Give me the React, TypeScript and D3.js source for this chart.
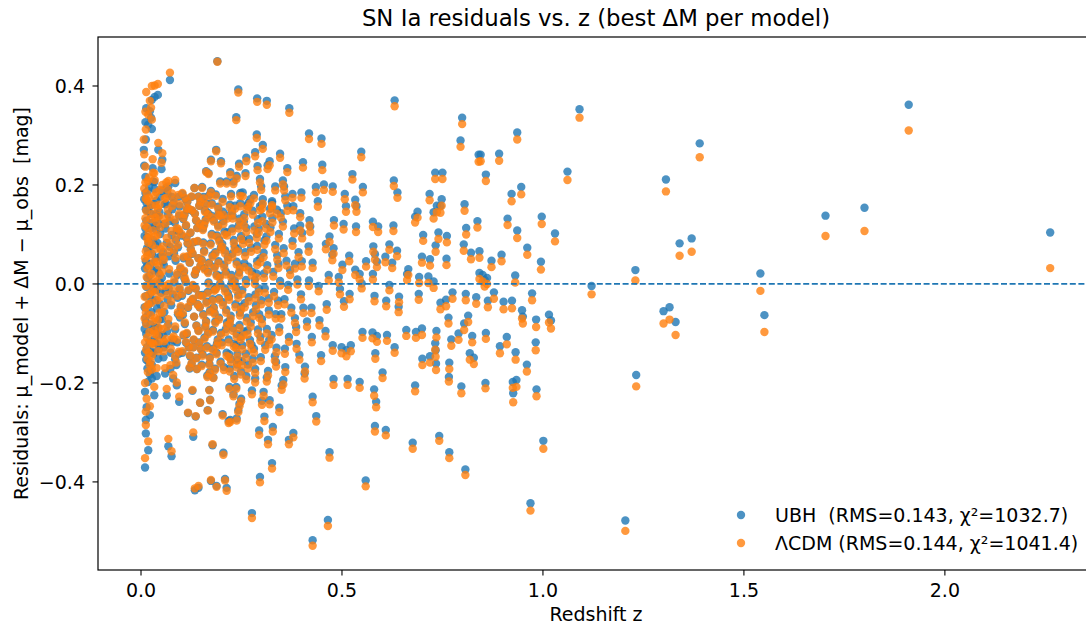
import React from "react";
import * as d3 from "d3";

// ---- Distant supernovae (z ≳ 0.4): redshift, UBH residual, ΛCDM residual ----
const distantZ = [
  1.205, 1.230, 1.232, 1.300, 1.306, 1.315, 1.330, 1.340, 1.370, 1.390,
  1.541, 1.551, 1.703, 1.800, 1.910, 2.262, 1.121, 1.091, 0.936, 0.891,
  0.845, 0.858, 1.061, 0.922, 0.946, 0.912, 0.936, 0.997, 1.030, 0.961,
  0.897, 0.872, 0.995, 0.931, 0.878, 0.973, 0.902, 0.923, 0.863, 0.948,
  0.950, 0.983, 1.015, 1.020, 0.858, 0.910, 0.893, 0.982, 0.932, 0.960,
  0.857, 0.925, 0.934, 0.926, 0.984, 1.001, 0.969, 0.842, 0.850, 0.855,
  0.861,
  0.427, 0.465, 0.559, 0.469, 0.807, 0.767, 0.742, 0.676, 0.582, 0.609,
  0.436, 0.427, 0.408, 0.479, 0.514, 0.544, 0.580, 0.585, 0.601, 0.682,
  0.766, 0.797, 0.448, 0.477, 0.499, 0.522, 0.511, 0.459, 0.425, 0.551,
  0.576, 0.587, 0.612, 0.631, 0.583, 0.660, 0.684, 0.699, 0.735, 0.732,
  0.733, 0.734, 0.700, 0.719, 0.767, 0.772, 0.790, 0.765, 0.804, 0.814,
  0.824, 0.818, 0.828, 0.642, 0.641, 0.610, 0.745, 0.759, 0.775, 0.808,
  0.834, 0.691, 0.581, 0.549, 0.618, 0.519, 0.495, 0.505, 0.424, 0.404,
  0.462, 0.444, 0.413, 0.418, 0.442, 0.467, 0.492, 0.544, 0.577, 0.662,
  0.692, 0.715, 0.728,
  0.631, 0.799, 0.795, 0.418, 0.449, 0.548, 0.840, 0.403, 0.451, 0.526,
  0.732, 0.750, 0.629, 0.638, 0.435, 0.455, 0.477, 0.552, 0.399, 0.507,
  0.533, 0.440, 0.510, 0.536, 0.718, 0.748, 0.736, 0.805, 0.688, 0.682,
  0.728, 0.745, 0.837, 0.809, 0.419, 0.480, 0.504, 0.535, 0.577, 0.590,
  0.628, 0.702, 0.740, 0.761, 0.803, 0.821, 0.842, 0.733, 0.699, 0.719,
  0.760, 0.665, 0.637, 0.608, 0.625, 0.578, 0.582, 0.587, 0.618, 0.518,
  0.560, 0.533, 0.501, 0.427, 0.400, 0.417, 0.460, 0.479, 0.476, 0.401,
  0.421, 0.469,
];
const distantUBH = [
  -0.478, 0.028, -0.184, -0.055, 0.211, -0.047, -0.077, 0.082, 0.092, 0.284,
  0.021, -0.063, 0.138, 0.154, 0.362, 0.104, -0.004, 0.353, 0.306, 0.263,
  0.261, 0.221, 0.227, 0.182, 0.196, 0.132, 0.108, 0.136, 0.102, 0.073,
  0.059, 0.047, 0.045, 0.017, -0.017, -0.019, -0.036, -0.034, -0.034, -0.053,
  -0.066, -0.072, -0.062, -0.074, -0.099, -0.107, -0.126, -0.118, -0.138, -0.163,
  -0.200, -0.198, -0.194, -0.221, -0.213, -0.317, -0.443, 0.022, 0.018, 0.008,
  0.012,
  -0.518, -0.477, -0.397, -0.340, -0.375, -0.340, -0.307, -0.321, -0.287, -0.295,
  -0.267, -0.228, -0.167, -0.192, -0.192, -0.198, -0.213, -0.238, -0.179, -0.205,
  -0.188, -0.207, -0.144, -0.124, -0.128, -0.124, -0.134, -0.095, -0.107, -0.097,
  -0.098, -0.105, -0.103, -0.128, -0.140, -0.093, -0.097, -0.090, -0.095, -0.120,
  -0.134, -0.161, -0.151, -0.146, -0.159, -0.112, -0.100, -0.068, -0.080, -0.064,
  -0.105, -0.140, -0.149, -0.026, -0.046, -0.034, -0.038, -0.032, -0.017, -0.020,
  -0.027, -0.020, -0.024, 0.001, -0.002, -0.020, -0.010, -0.035, -0.048, -0.048,
  -0.041, -0.073, -0.076, 0.007, -0.004, 0.018, 0.014, 0.020, 0.020, 0.020,
  0.014, 0.015, 0.005,
  0.371, 0.336, 0.290, 0.304, 0.294, 0.267, 0.261, 0.246, 0.241, 0.222,
  0.225, 0.225, 0.209, 0.185, 0.196, 0.201, 0.197, 0.196, 0.185, 0.182,
  0.170, 0.167, 0.157, 0.157, 0.182, 0.171, 0.158, 0.161, 0.146, 0.136,
  0.145, 0.157, 0.127, 0.113, 0.129, 0.129, 0.121, 0.116, 0.126, 0.116,
  0.118, 0.099, 0.104, 0.097, 0.080, 0.063, 0.066, 0.078, 0.055, 0.050,
  0.051, 0.030, 0.067, 0.055, 0.043, 0.076, 0.060, 0.045, 0.080, 0.057,
  0.046, 0.029, 0.039, 0.043, 0.046, 0.076, 0.081, 0.072, 0.059, 0.103,
  0.116, 0.096,
];
const distantLCDM = [
  -0.499, 0.007, -0.207, -0.080, 0.187, -0.072, -0.103, 0.057, 0.065, 0.256,
  -0.014, -0.097, 0.097, 0.107, 0.310, 0.032, -0.021, 0.336, 0.292, 0.249,
  0.248, 0.208, 0.210, 0.167, 0.181, 0.119, 0.093, 0.121, 0.086, 0.059,
  0.046, 0.034, 0.029, 0.003, -0.030, -0.033, -0.051, -0.049, -0.047, -0.070,
  -0.080, -0.087, -0.078, -0.090, -0.111, -0.122, -0.140, -0.134, -0.153, -0.177,
  -0.211, -0.210, -0.208, -0.239, -0.227, -0.333, -0.458, 0.010, 0.005, -0.005,
  0.000,
  -0.529, -0.489, -0.409, -0.351, -0.386, -0.352, -0.317, -0.333, -0.298, -0.306,
  -0.278, -0.239, -0.177, -0.204, -0.204, -0.210, -0.226, -0.249, -0.190, -0.217,
  -0.197, -0.221, -0.156, -0.135, -0.140, -0.136, -0.146, -0.106, -0.118, -0.109,
  -0.110, -0.117, -0.115, -0.139, -0.151, -0.105, -0.109, -0.103, -0.108, -0.133,
  -0.147, -0.174, -0.164, -0.159, -0.172, -0.125, -0.113, -0.080, -0.093, -0.077,
  -0.118, -0.153, -0.162, -0.037, -0.057, -0.045, -0.051, -0.045, -0.030, -0.033,
  -0.040, -0.032, -0.035, -0.009, -0.013, -0.031, -0.021, -0.046, -0.059, -0.059,
  -0.052, -0.084, -0.087, -0.004, -0.015, 0.007, 0.003, 0.009, 0.009, 0.008,
  0.002, 0.002, -0.008,
  0.359, 0.323, 0.277, 0.293, 0.283, 0.256, 0.247, 0.235, 0.230, 0.211,
  0.212, 0.212, 0.198, 0.174, 0.185, 0.190, 0.186, 0.185, 0.174, 0.171,
  0.159, 0.156, 0.146, 0.146, 0.169, 0.158, 0.145, 0.148, 0.134, 0.124,
  0.132, 0.144, 0.114, 0.100, 0.118, 0.118, 0.110, 0.105, 0.115, 0.105,
  0.107, 0.087, 0.091, 0.084, 0.067, 0.050, 0.053, 0.065, 0.043, 0.037,
  0.038, 0.018, 0.056, 0.044, 0.032, 0.065, 0.049, 0.034, 0.069, 0.046,
  0.035, 0.018, 0.028, 0.032, 0.035, 0.065, 0.070, 0.061, 0.048, 0.092,
  0.105, 0.085,
];

// ---- Nearby supernovae with large residuals (z < 0.4, |r| ≳ 0.15) ----
const tailZ = [
  0.190, 0.072, 0.013, 0.027, 0.034, 0.042, 0.242, 0.289, 0.313, 0.369,
  0.237, 0.288, 0.303, 0.284, 0.187, 0.346, 0.262, 0.174, 0.199, 0.320,
  0.244, 0.290, 0.364, 0.162, 0.168, 0.222, 0.238, 0.260, 0.315, 0.296,
  0.197, 0.213, 0.230, 0.353, 0.334, 0.356, 0.299, 0.377, 0.281, 0.224,
  0.170, 0.143, 0.062, 0.068, 0.085, 0.051, 0.043, 0.053, 0.029, 0.008,
  0.007, 0.012, 0.027, 0.011, 0.022, 0.025, 0.018, 0.114, 0.221, 0.193,
  0.247, 0.267, 0.301, 0.326, 0.338, 0.359, 0.379, 0.396,
  0.276, 0.010, 0.076, 0.068, 0.018, 0.012, 0.134, 0.143, 0.188, 0.174,
  0.213, 0.209, 0.296, 0.326, 0.205, 0.178, 0.130, 0.316, 0.294, 0.328,
  0.307, 0.379, 0.368, 0.344, 0.222, 0.203, 0.238, 0.242, 0.166, 0.147,
  0.117, 0.136, 0.095, 0.128, 0.170, 0.172, 0.180, 0.220, 0.237, 0.230,
  0.249, 0.245, 0.218, 0.276, 0.301, 0.320, 0.305, 0.284, 0.313, 0.262,
  0.350, 0.354, 0.407, 0.010, 0.014, 0.022, 0.012, 0.033, 0.027, 0.064,
  0.080, 0.089,
];
const tailUBH = [
  0.450, 0.412, 0.355, 0.372, 0.378, 0.382, 0.393, 0.375, 0.370, 0.355,
  0.337, 0.302, 0.281, 0.266, 0.271, 0.263, 0.255, 0.251, 0.248, 0.248,
  0.243, 0.238, 0.234, 0.228, 0.224, 0.226, 0.218, 0.224, 0.240, 0.212,
  0.207, 0.207, 0.207, 0.209, 0.197, 0.197, 0.197, 0.182, 0.180, 0.182,
  0.180, 0.177, 0.162, 0.197, 0.204, 0.232, 0.271, 0.251, 0.234, 0.239,
  0.271, 0.292, 0.313, 0.327, 0.349, 0.336, 0.322, 0.150, 0.160, 0.143,
  0.163, 0.163, 0.160, 0.167, 0.150, 0.177, 0.157, 0.143,
  -0.463, -0.371, -0.348, -0.328, -0.336, -0.302, -0.417, -0.412, -0.408, -0.398,
  -0.412, -0.394, -0.390, -0.362, -0.341, -0.326, -0.309, -0.315, -0.296, -0.289,
  -0.268, -0.301, -0.315, -0.250, -0.275, -0.263, -0.272, -0.255, -0.255, -0.240,
  -0.261, -0.268, -0.238, -0.216, -0.214, -0.234, -0.189, -0.208, -0.208, -0.223,
  -0.232, -0.242, -0.277, -0.215, -0.236, -0.235, -0.218, -0.191, -0.189, -0.186,
  -0.205, -0.194, -0.181, -0.218, -0.249, -0.265, -0.275, -0.225, -0.191, -0.225,
  -0.191, -0.205,
];
const tailLCDM = [
  0.449, 0.427, 0.388, 0.400, 0.401, 0.404, 0.387, 0.368, 0.362, 0.346,
  0.331, 0.295, 0.273, 0.258, 0.268, 0.255, 0.248, 0.248, 0.244, 0.240,
  0.237, 0.230, 0.226, 0.226, 0.222, 0.221, 0.213, 0.218, 0.232, 0.205,
  0.203, 0.203, 0.202, 0.201, 0.189, 0.189, 0.190, 0.174, 0.173, 0.177,
  0.177, 0.176, 0.174, 0.208, 0.210, 0.245, 0.285, 0.264, 0.252, 0.262,
  0.292, 0.312, 0.332, 0.348, 0.370, 0.356, 0.342, 0.153, 0.155, 0.139,
  0.157, 0.156, 0.152, 0.159, 0.142, 0.169, 0.149, 0.135,
  -0.473, -0.352, -0.338, -0.313, -0.318, -0.285, -0.413, -0.408, -0.410, -0.396,
  -0.418, -0.397, -0.401, -0.373, -0.345, -0.324, -0.300, -0.324, -0.305, -0.298,
  -0.277, -0.310, -0.324, -0.259, -0.279, -0.266, -0.276, -0.259, -0.256, -0.240,
  -0.260, -0.267, -0.228, -0.214, -0.215, -0.235, -0.190, -0.212, -0.212, -0.227,
  -0.237, -0.247, -0.281, -0.223, -0.244, -0.243, -0.226, -0.199, -0.197, -0.193,
  -0.214, -0.203, -0.191, -0.200, -0.232, -0.247, -0.258, -0.208, -0.173, -0.212,
  -0.184, -0.199,
];

// ---- Nearby supernovae in the dense core (z < 0.4, |r| ≲ 0.2) ----
const coreZ = [
  0.011, 0.024, 0.009, 0.037, 0.016, 0.028, 0.012, 0.041, 0.019, 0.033,
  0.014, 0.045, 0.021, 0.010, 0.039, 0.026, 0.013, 0.031, 0.022, 0.017,
  0.042, 0.030, 0.012, 0.047, 0.020, 0.035, 0.015, 0.027, 0.008, 0.036,
  0.018, 0.044, 0.023, 0.011, 0.032, 0.016, 0.048, 0.025, 0.014, 0.040,
  0.029, 0.010, 0.034, 0.019, 0.046, 0.013, 0.038, 0.021, 0.043, 0.026,
  0.017, 0.030, 0.012, 0.049, 0.023, 0.035, 0.015, 0.041, 0.028, 0.009,
  0.032, 0.020, 0.045, 0.016, 0.037, 0.024, 0.011, 0.050,
  0.053, 0.078, 0.061, 0.092, 0.057, 0.083, 0.066, 0.097, 0.054, 0.074,
  0.088, 0.059, 0.071, 0.095, 0.064, 0.086, 0.052, 0.079, 0.099, 0.068,
  0.090, 0.056, 0.076, 0.093, 0.063, 0.082, 0.070, 0.096, 0.058, 0.085,
  0.073, 0.067, 0.089, 0.055, 0.081, 0.098, 0.062, 0.077, 0.091, 0.069,
  0.084, 0.060, 0.094,
  0.103, 0.127, 0.112, 0.141, 0.106, 0.134, 0.118, 0.146, 0.109, 0.131,
  0.122, 0.139, 0.115, 0.137, 0.101, 0.124, 0.148, 0.111, 0.129, 0.104,
  0.143, 0.119, 0.133, 0.108, 0.145, 0.121, 0.136, 0.114, 0.149, 0.126,
  0.102, 0.140, 0.116, 0.132, 0.107, 0.144, 0.123, 0.138, 0.110, 0.128,
  0.152, 0.176, 0.161, 0.189, 0.157, 0.183, 0.168, 0.194, 0.155, 0.179,
  0.164, 0.198, 0.171, 0.186, 0.159, 0.192, 0.173, 0.151, 0.196, 0.166,
  0.181, 0.158, 0.188, 0.170, 0.154, 0.178, 0.199, 0.163, 0.185, 0.153,
  0.175, 0.191, 0.167, 0.182, 0.160, 0.197, 0.172, 0.156, 0.184, 0.193,
  0.203, 0.228, 0.214, 0.241, 0.207, 0.233, 0.219, 0.246, 0.211, 0.237,
  0.224, 0.249, 0.205, 0.231, 0.216, 0.244, 0.209, 0.235, 0.221, 0.248,
  0.213, 0.239, 0.226, 0.202, 0.243, 0.218, 0.232, 0.206, 0.247, 0.225,
  0.212, 0.238, 0.229, 0.201, 0.242,
  0.253, 0.278, 0.262, 0.289, 0.257, 0.283, 0.268, 0.294, 0.255, 0.281,
  0.266, 0.291, 0.259, 0.286, 0.271, 0.298, 0.264, 0.276, 0.252, 0.288,
  0.273, 0.297, 0.261, 0.284, 0.269, 0.293, 0.256, 0.279,
  0.303, 0.327, 0.312, 0.339, 0.306, 0.331, 0.318, 0.344, 0.309, 0.336,
  0.322, 0.348, 0.314, 0.341, 0.325, 0.301, 0.334, 0.316, 0.346, 0.321,
  0.308, 0.337,
  0.353, 0.377, 0.362, 0.389, 0.357, 0.383, 0.368, 0.394, 0.359, 0.381,
  0.366, 0.392, 0.374, 0.387, 0.355, 0.398,
];
const coreUBH = [
  0.184, 0.142, 0.097, 0.053, 0.012, -0.034, -0.078, -0.121, -0.158, 0.206,
  0.163, 0.121, 0.074, 0.031, -0.012, -0.057, -0.101, -0.141, -0.183, 0.188,
  0.136, 0.089, 0.046, 0.003, -0.041, -0.087, -0.128, -0.163, 0.171, 0.117,
  0.064, 0.022, -0.021, -0.068, -0.112, 0.148, 0.101, 0.041, -0.006, -0.049,
  -0.094, -0.139, 0.192, 0.083, -0.072, 0.128, 0.168, -0.116, -0.151, 0.001,
  -0.198, 0.207, -0.025, 0.056, 0.112, -0.033, 0.072, 0.083, -0.137, -0.047,
  0.027, 0.155, -0.104, -0.171, 0.141, -0.082, 0.112, -0.018,
  0.188, 0.151, 0.112, 0.074, 0.038, 0.003, -0.032, -0.068, -0.103, -0.139,
  -0.164, 0.161, 0.127, 0.138, 0.083, 0.047, 0.012, -0.021, -0.048, -0.081,
  -0.118, -0.148, 0.099, 0.176, 0.195, 0.062, 0.021, -0.011, -0.057, -0.092,
  -0.172, 0.141, 0.108, 0.064, -0.113, 0.031, -0.122, 0.176, -0.028, -0.009,
  0.124, -0.181, -0.141,
  0.182, 0.148, 0.117, 0.086, 0.052, 0.019, -0.014, -0.047, -0.081, -0.113,
  -0.146, -0.172, 0.165, 0.128, 0.098, 0.069, 0.037, 0.004, -0.031, -0.063,
  -0.094, -0.128, 0.194, 0.139, 0.158, 0.043, -0.009, -0.101, -0.131, -0.161,
  -0.024, 0.113, 0.081, -0.066, 0.024, -0.022, 0.103, -0.149, 0.172, 0.061,
  0.196, 0.163, 0.131, 0.098, 0.067, 0.035, 0.003, -0.029, -0.061, -0.093,
  -0.126, -0.157, -0.178, 0.181, 0.149, 0.118, 0.082, 0.049, 0.016, -0.016,
  -0.047, -0.108, -0.139, -0.161, 0.112, 0.058, 0.074, -0.036, -0.076, -0.142,
  0.138, -0.112, 0.025, -0.011, -0.085, 0.141, -0.053, 0.176, -0.171, 0.046,
  0.172, 0.138, 0.104, 0.071, 0.039, 0.007, -0.026, -0.058, -0.091, -0.124,
  -0.152, -0.177, 0.127, 0.089, 0.054, 0.023, -0.009, -0.041, -0.074, -0.107,
  -0.139, -0.163, 0.148, 0.081, 0.118, -0.112, -0.186, -0.168, 0.184, 0.018,
  -0.052, 0.045, -0.089, -0.118, -0.022,
  0.185, 0.148, 0.113, 0.077, 0.042, 0.008, -0.027, -0.061, -0.096, -0.131,
  -0.163, 0.131, 0.064, -0.043, -0.113, -0.148, 0.158, 0.025, -0.012, 0.101,
  -0.078, 0.052, -0.141, -0.172, 0.091, -0.009, 0.126, -0.057,
  0.171, 0.133, 0.096, 0.058, 0.021, -0.016, -0.053, -0.088, -0.124, -0.158,
  0.114, 0.143, 0.038, -0.034, -0.103, -0.071, 0.079, -0.176, 0.006, 0.152,
  -0.009, -0.129,
  0.126, 0.087, 0.047, 0.009, -0.031, -0.069, -0.107, -0.143, -0.168, 0.112,
  -0.002, 0.064, -0.048, -0.121, 0.072, -0.021,
];
const coreLCDM = [
  0.205, 0.160, 0.118, 0.071, 0.031, -0.015, -0.058, -0.104, -0.139, 0.224,
  0.183, 0.137, 0.094, 0.052, 0.005, -0.038, -0.081, -0.122, -0.164, 0.208,
  0.152, 0.108, 0.066, 0.018, -0.021, -0.069, -0.108, -0.145, 0.193, 0.134,
  0.083, 0.037, -0.001, -0.047, -0.094, 0.168, 0.115, 0.060, 0.014, -0.033,
  -0.076, -0.118, 0.210, 0.102, -0.058, 0.148, 0.185, -0.097, -0.136, 0.020,
  -0.178, 0.225, -0.004, 0.070, 0.131, -0.016, 0.092, 0.099, -0.119, -0.026,
  0.045, 0.174, -0.089, -0.151, 0.158, -0.063, 0.133, -0.004,
  0.200, 0.158, 0.122, 0.079, 0.049, 0.009, -0.022, -0.064, -0.091, -0.131,
  -0.159, 0.172, 0.135, 0.142, 0.093, 0.053, 0.025, -0.013, -0.045, -0.071,
  -0.113, -0.136, 0.107, 0.180, 0.205, 0.069, 0.030, -0.007, -0.045, -0.086,
  -0.164, 0.150, 0.113, 0.076, -0.106, 0.034, -0.111, 0.183, -0.024, 0.000,
  0.130, -0.170, -0.137,
  0.184, 0.149, 0.119, 0.087, 0.055, 0.020, -0.012, -0.047, -0.078, -0.112,
  -0.144, -0.172, 0.167, 0.129, 0.101, 0.070, 0.037, 0.007, -0.030, -0.059,
  -0.095, -0.127, 0.194, 0.141, 0.158, 0.044, -0.009, -0.099, -0.132, -0.160,
  -0.020, 0.113, 0.083, -0.066, 0.027, -0.023, 0.104, -0.150, 0.174, 0.062,
  0.194, 0.160, 0.128, 0.095, 0.064, 0.032, 0.000, -0.032, -0.064, -0.096,
  -0.129, -0.161, -0.181, 0.178, 0.146, 0.115, 0.079, 0.047, 0.012, -0.019,
  -0.050, -0.111, -0.142, -0.164, 0.109, 0.055, 0.070, -0.039, -0.079, -0.145,
  0.135, -0.116, 0.022, -0.014, -0.088, 0.137, -0.056, 0.173, -0.174, 0.042,
  0.166, 0.132, 0.098, 0.065, 0.033, 0.001, -0.032, -0.064, -0.097, -0.130,
  -0.158, -0.183, 0.121, 0.083, 0.048, 0.017, -0.015, -0.047, -0.080, -0.113,
  -0.145, -0.169, 0.142, 0.075, 0.112, -0.118, -0.192, -0.174, 0.178, 0.012,
  -0.058, 0.039, -0.095, -0.124, -0.028,
  0.177, 0.140, 0.105, 0.069, 0.034, 0.000, -0.035, -0.069, -0.104, -0.139,
  -0.171, 0.123, 0.056, -0.051, -0.121, -0.156, 0.150, 0.017, -0.020, 0.093,
  -0.086, 0.044, -0.149, -0.180, 0.083, -0.017, 0.118, -0.065,
  0.162, 0.124, 0.087, 0.049, 0.012, -0.025, -0.062, -0.097, -0.133, -0.167,
  0.105, 0.134, 0.029, -0.043, -0.112, -0.080, 0.070, -0.185, -0.003, 0.143,
  -0.018, -0.138,
  0.116, 0.077, 0.037, -0.001, -0.041, -0.079, -0.117, -0.153, -0.178, 0.102,
  -0.012, 0.054, -0.058, -0.131, 0.062, -0.031,
];

// ---- Further core supernovae filling the densest part of the cloud ----
const packedZ = [
  0.015, 0.033, 0.009, 0.044, 0.021, 0.038, 0.013, 0.027, 0.046, 0.018,
  0.031, 0.040, 0.011, 0.024, 0.035, 0.048, 0.016, 0.029, 0.042, 0.020,
  0.034, 0.012, 0.047, 0.025, 0.039,
  0.058, 0.087, 0.065, 0.092, 0.054, 0.075, 0.081, 0.069, 0.096, 0.061,
  0.085, 0.072, 0.057, 0.090, 0.078, 0.066, 0.094, 0.052,
  0.105, 0.131, 0.117, 0.143, 0.112, 0.126, 0.138, 0.108, 0.147, 0.121,
  0.134, 0.103, 0.129, 0.116, 0.145,
  0.158, 0.181, 0.167, 0.194, 0.153, 0.176, 0.189, 0.162, 0.197, 0.171,
  0.185, 0.155, 0.178, 0.192, 0.165,
  0.208, 0.234, 0.219, 0.245, 0.204, 0.227, 0.241, 0.215, 0.236, 0.223,
  0.249, 0.211, 0.231, 0.246,
  0.258, 0.282, 0.267, 0.291, 0.254, 0.275, 0.296, 0.263, 0.287, 0.272,
  0.251, 0.299,
  0.311, 0.335, 0.319, 0.343, 0.305, 0.329, 0.364, 0.386, 0.371, 0.396,
  0.358, 0.383,
  0.113, 0.137, 0.124, 0.148, 0.106, 0.141, 0.119, 0.130, 0.157, 0.169,
  0.183, 0.195, 0.162, 0.174, 0.188, 0.151, 0.179, 0.199, 0.166, 0.186,
  0.204, 0.216, 0.227, 0.238, 0.209, 0.221, 0.233, 0.245, 0.214, 0.226,
  0.240, 0.249, 0.257, 0.265, 0.274, 0.285, 0.293, 0.261, 0.278, 0.289,
  0.252, 0.297, 0.307, 0.318, 0.326, 0.333, 0.342, 0.313, 0.349, 0.302,
];
const packedUBH = [
  0.095, 0.161, -0.091, -0.132, 0.017, 0.109, -0.153, 0.061, 0.145, -0.061,
  -0.008, 0.029, 0.216, -0.176, 0.079, -0.041, 0.037, 0.124, -0.089, 0.196,
  -0.118, 0.151, 0.176, -0.139, -0.186,
  0.121, 0.089, -0.096, -0.061, 0.045, -0.043, 0.163, 0.056, 0.157, -0.015,
  -0.152, 0.075, -0.128, 0.018, -0.117, 0.182, 0.106, -0.071,
  0.131, 0.084, -0.048, 0.052, -0.119, 0.176, -0.084, 0.011, 0.121, -0.171,
  0.142, -0.139, -0.003, 0.054, -0.118,
  0.032, 0.129, -0.098, -0.068, -0.022, 0.101, -0.121, 0.163, 0.001, -0.148,
  0.064, 0.084, -0.031, 0.156, -0.185,
  0.106, 0.158, -0.142, -0.083, -0.037, 0.061, -0.154, 0.138, -0.006, -0.064,
  0.097, 0.025, -0.121, 0.035,
  -0.039, 0.116, 0.035, -0.092, 0.089, -0.123, 0.157, -0.068, 0.021, 0.171,
  -0.156, -0.033,
  0.121, -0.061, -0.113, 0.101, 0.063, 0.024, 0.158, -0.087, 0.028, 0.118,
  -0.131, 0.041,
  0.093, 0.027, -0.036, 0.166, -0.104, -0.041, 0.151, -0.128, 0.121, 0.043,
  -0.058, 0.089, -0.075, 0.188, 0.019, -0.163, -0.131, -0.099, 0.144, -0.008,
  0.146, -0.018, 0.112, -0.101, 0.068, -0.171, 0.076, 0.132, -0.078, 0.003,
  -0.141, -0.046, 0.141, -0.094, 0.073, -0.021, 0.112, 0.008, -0.151, 0.046,
  -0.124, -0.107, 0.088, -0.029, 0.164, -0.146, 0.041, -0.091, -0.061, 0.136,
];
const packedLCDM = [
  0.114, 0.178, -0.070, -0.117, 0.037, 0.125, -0.133, 0.080, 0.160, -0.041,
  0.010, 0.045, 0.237, -0.157, 0.096, -0.027, 0.057, 0.142, -0.073, 0.215,
  -0.101, 0.172, 0.190, -0.120, -0.170,
  0.132, 0.094, -0.086, -0.057, 0.057, -0.035, 0.169, 0.065, 0.161, -0.004,
  -0.146, 0.083, -0.116, 0.022, -0.110, 0.191, 0.110, -0.058,
  0.133, 0.085, -0.046, 0.052, -0.117, 0.177, -0.085, 0.014, 0.121, -0.169,
  0.142, -0.136, -0.002, 0.056, -0.119,
  0.029, 0.126, -0.101, -0.072, -0.025, 0.098, -0.125, 0.160, -0.003, -0.151,
  0.061, 0.081, -0.034, 0.152, -0.188,
  0.100, 0.152, -0.148, -0.089, -0.043, 0.055, -0.160, 0.132, -0.012, -0.070,
  0.091, 0.019, -0.127, 0.029,
  -0.047, 0.108, 0.027, -0.100, 0.081, -0.131, 0.149, -0.076, 0.013, 0.163,
  -0.164, -0.041,
  0.112, -0.070, -0.122, 0.092, 0.054, 0.015, 0.148, -0.097, 0.018, 0.108,
  -0.141, 0.031,
  0.095, 0.028, -0.035, 0.166, -0.102, -0.042, 0.152, -0.128, 0.118, 0.040,
  -0.061, 0.085, -0.078, 0.185, 0.016, -0.166, -0.134, -0.103, 0.141, -0.011,
  0.140, -0.024, 0.106, -0.107, 0.062, -0.177, 0.070, 0.126, -0.084, -0.003,
  -0.147, -0.052, 0.133, -0.102, 0.065, -0.029, 0.104, 0.000, -0.159, 0.038,
  -0.132, -0.115, 0.079, -0.038, 0.155, -0.155, 0.032, -0.100, -0.070, 0.127,
];

const redshift = [...distantZ, ...tailZ, ...coreZ, ...packedZ];
const residualUBH = [...distantUBH, ...tailUBH, ...coreUBH, ...packedUBH];
const residualLCDM = [...distantLCDM, ...tailLCDM, ...coreLCDM, ...packedLCDM];

const xTicks = [0.0, 0.5, 1.0, 1.5, 2.0];
const yTicks = [-0.4, -0.2, 0.0, 0.2, 0.4];
const seriesLabels = ["UBH  (RMS=0.143, χ²=1032.7)", "ΛCDM (RMS=0.144, χ²=1041.4)"];
const seriesColors = ["#1f77b4", "#ff7f0e"];

const FONT = "'DejaVu Sans', Verdana, sans-serif";

export default function App() {
  const width = 1086;
  const height = 626;
  const plot = { left: 98, right: 1094, top: 37, bottom: 570 };

  const x = d3.scaleLinear().domain([-0.107, 2.371]).range([plot.left, plot.right]);
  const y = d3.scaleLinear().domain([-0.578, 0.499]).range([plot.bottom, plot.top]);

  const n = Math.min(redshift.length, residualUBH.length, residualLCDM.length);
  const idx = d3.range(n);
  const fmt = (v: number) => d3.format(".1f")(v).replace("-", "\u2212");
  const r = 4.2;
  const fs = 19;

  return (
    <svg
      width={width}
      height={height}
      style={{ position: "absolute", left: 0, top: 0, background: "#fff" }}
      fontFamily={FONT}
    >
      <rect x={0} y={0} width={width} height={height} fill="#fff" />

      {/* UBH residuals */}
      <g fill={seriesColors[0]} fillOpacity={0.8}>
        {idx.map((i) => (
          <circle key={"u" + i} cx={x(redshift[i])} cy={y(residualUBH[i])} r={r} />
        ))}
      </g>
      {/* ΛCDM residuals */}
      <g fill={seriesColors[1]} fillOpacity={0.8}>
        {idx.map((i) => (
          <circle key={"l" + i} cx={x(redshift[i])} cy={y(residualLCDM[i])} r={r} />
        ))}
      </g>

      {/* zero reference */}
      <line
        x1={plot.left}
        x2={plot.right}
        y1={y(0)}
        y2={y(0)}
        stroke="#1f77b4"
        strokeWidth={1.7}
        strokeDasharray="6,2.6"
      />

      {/* frame */}
      <rect
        x={plot.left}
        y={plot.top}
        width={plot.right - plot.left}
        height={plot.bottom - plot.top}
        fill="none"
        stroke="#000"
        strokeWidth={1.2}
      />

      {/* x axis */}
      {xTicks.map((t) => (
        <g key={"xt" + t}>
          <line x1={x(t)} x2={x(t)} y1={plot.bottom} y2={plot.bottom + 5.5} stroke="#000" strokeWidth={1.1} />
          <text x={x(t)} y={plot.bottom + 27} textAnchor="middle" fontSize={fs} fill="#000">
            {fmt(t)}
          </text>
        </g>
      ))}
      <text x={(plot.left + plot.right) / 2} y={621} textAnchor="middle" fontSize={fs} fill="#000">
        Redshift z
      </text>

      {/* y axis */}
      {yTicks.map((t) => (
        <g key={"yt" + t}>
          <line x1={plot.left - 5.5} x2={plot.left} y1={y(t)} y2={y(t)} stroke="#000" strokeWidth={1.1} />
          <text
            x={plot.left - 13}
            y={y(t)}
            textAnchor="end"
            dominantBaseline="central"
            fontSize={fs}
            fill="#000"
          >
            {fmt(t)}
          </text>
        </g>
      ))}
      <text
        transform={`translate(21,${(plot.top + plot.bottom) / 2}) rotate(-90)`}
        textAnchor="middle"
        dominantBaseline="central"
        fontSize={fs}
        fill="#000"
        style={{ whiteSpace: "pre" }}
      >
        {"Residuals: μ_model + ΔM − μ_obs  [mag]"}
      </text>

      {/* title */}
      <text x={(plot.left + plot.right) / 2} y={26} textAnchor="middle" fontSize={22.8} fill="#000">
        SN Ia residuals vs. z (best ΔM per model)
      </text>

      {/* legend */}
      {seriesLabels.map((label, i) => (
        <g key={"lg" + i} transform={`translate(741,${515 + i * 28})`}>
          <circle cx={0} cy={0} r={r} fill={seriesColors[i]} fillOpacity={0.8} />
          <text
            x={34}
            y={0}
            dominantBaseline="central"
            fontSize={fs}
            fill="#000"
            style={{ whiteSpace: "pre" }}
          >
            {label}
          </text>
        </g>
      ))}
    </svg>
  );
}
